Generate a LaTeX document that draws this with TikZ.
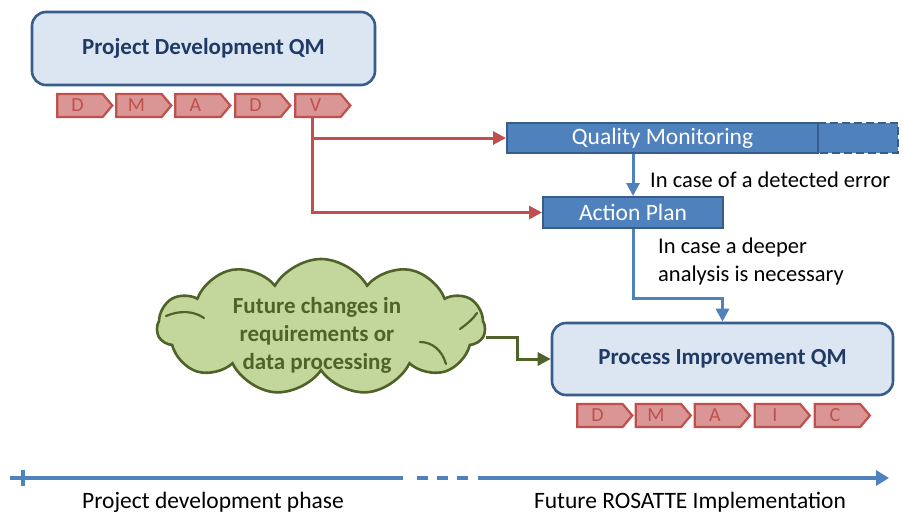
\documentclass[tikz,border=0pt]{standalone}
\usepackage{fontspec}
\setmainfont{Carlito}
\usetikzlibrary{arrows.meta,shapes.symbols,calc}

\definecolor{boxfill}{HTML}{DCE6F2}
\definecolor{boxline}{HTML}{385D8A}
\definecolor{boxtext}{HTML}{1F3A64}
\definecolor{qmblue}{HTML}{4F81BD}
\definecolor{redline}{HTML}{C0504D}
\definecolor{chevfill}{HTML}{D99694}
\definecolor{cloudfill}{HTML}{C3D69B}
\definecolor{cloudline}{HTML}{4F6228}

\tikzset{
  qmbox/.style={draw=boxline, fill=boxfill, line width=2.6pt, rounded corners=14pt,
    inner sep=0pt, text=boxtext, font=\fontsize{23}{27}\selectfont\bfseries},
  phase/.style={shape=signal, signal to=east, signal pointer angle=100,
    draw=redline, fill=chevfill, line width=2.2pt, minimum width=55pt,
    minimum height=23pt, inner sep=0pt, text=redline,
    font=\fontsize{20}{22}\selectfont},
  bluebar/.style={draw=boxline, fill=qmblue, line width=2pt, inner sep=0pt,
    text=white, font=\fontsize{23.5}{26}\selectfont},
  tip/.style={-{Triangle[length=13pt,width=13pt]}},
  redarrow/.style={draw=redline, line width=3pt, tip},
  bluearrow/.style={draw=qmblue, line width=3pt, tip},
  greenarrow/.style={draw=cloudline, line width=3pt, tip},
  puffline/.style={draw=cloudline, line width=2.2pt, line cap=round},
  note/.style={anchor=west, inner sep=0pt, align=left, text=black,
    font=\fontsize{22.5}{28}\selectfont},
  tline/.style={draw=qmblue, line width=3.5pt},
  timelabel/.style={inner sep=0pt, text=black, font=\fontsize{23.5}{26}\selectfont},
}

\begin{document}
\begin{tikzpicture}[x=1pt,y=-1pt]
\useasboundingbox[fill=white] (0,0) rectangle (903,515);

% project development block with its DMADV steps
\node[qmbox, minimum width=343pt, minimum height=73pt] (pd) at (203.5,48.5) {Project Development QM};
\node[phase] (p1) at (80,105.5) {D\kern5pt};
\node[phase] (p2) at (139,105.5) {M\kern5pt};
\node[phase] (p3) at (198,105.5) {A\kern5pt};
\node[phase] (p4) at (258,105.5) {D\kern5pt};
\node[phase] (p5) at (318,105.5) {V\kern5pt};

% monitoring bar with its open-ended continuation
\coordinate (qmne) at (818,123);
\draw[draw=boxline, fill=qmblue, line width=2pt, dash pattern=on 8pt off 4pt]
  (qmne) -- ++(80,0) -- ++(0,30) -- ++(-80,0);
\node[bluebar, minimum width=311pt, minimum height=30pt] (qm) at (662.5,138) {Quality Monitoring};
\node[bluebar, minimum width=180pt, minimum height=31pt] (ap) at (633,212.5) {Action Plan};

% process improvement block with its DMAIC steps
\node[qmbox, minimum width=341pt, minimum height=72pt] (pi) at (722.5,359) {Process Improvement QM};
\node[phase] (q1) at (600,415.5) {D\kern5pt};
\node[phase] (q2) at (658.5,415.5) {M\kern5pt};
\node[phase] (q3) at (717.5,415.5) {A\kern5pt};
\node[phase] (q4) at (777.5,415.5) {I\kern5pt};
\node[phase] (q5) at (837.5,415.5) {C\kern5pt};

% external triggers
\node[cloud, cloud puffs=11, cloud puff arc=120, aspect=2.4, draw=cloudline, fill=cloudfill,
  line width=2.6pt, minimum width=328pt, minimum height=136pt, inner sep=0pt] (cl) at (321,327) {};
% inner fold lines of the cloud
\draw[puffline] (166,316) .. controls (180,310) and (194,311) .. (204,318);
\draw[puffline] (460,329) .. controls (467,324) and (473,319) .. (477,313);
\draw[puffline] (420,342) .. controls (432,342) and (442,350) .. (446,364);
\node[align=center, text=cloudline, font=\fontsize{23}{28}\selectfont\bfseries, inner sep=0pt]
  (cltext) at (317,335) {Future changes in\\requirements or\\data processing};

% connectors
\coordinate (vfoot) at ([xshift=-6pt]p5.south);
\draw[redarrow] (vfoot) |- (qm.west);
\draw[redarrow] (vfoot) |- (ap.west);
\draw[bluearrow] (qm.south -| ap.north) -- (ap.north);
\draw[bluearrow] (ap.south) -- ++(0,69) -| (pi.north);
\coordinate (clout) at ([yshift=-10pt]cl.east);
\draw[greenarrow] (clout) -- ++(31,0) |- (pi.west);

\node[note] (n1) at (650,180) {In case of a detected error};
\node[note] (n2) at (658,261) {In case a deeper\\analysis is necessary};

% time axis
\coordinate (ta) at (10,478);
\coordinate (tb) at (403,478);
\coordinate (tc) at (417,478);
\coordinate (td) at (470,478);
\coordinate (te) at (478,478);
\coordinate (tf) at (889,478);
\coordinate (tk1) at (23,470);
\coordinate (tk2) at (23,486);
\draw[tline] (ta) -- (tb);
\draw[tline, dash pattern=on 11pt off 9pt] (tc) -- (td);
\draw[tline, -{Triangle[length=13pt,width=15pt]}] (te) -- (tf);
\draw[tline] (tk1) -- (tk2);
\node[timelabel] (l1) at (213,502) {Project development phase};
\node[timelabel] (l2) at (690,502) {Future ROSATTE Implementation};
\end{tikzpicture}
\end{document}
